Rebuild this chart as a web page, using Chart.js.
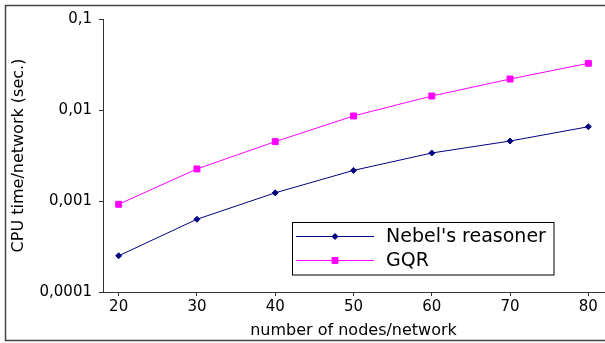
<!DOCTYPE html>
<html>
<head>
<meta charset="utf-8">
<script src="https://cdn.jsdelivr.net/npm/chart.js@4.4.1/dist/chart.umd.min.js"></script>
<style>
html,body{margin:0;padding:0;background:#fff;overflow:hidden;}
#wrap{width:605px;height:343px;position:relative;}
</style>
</head>
<body>
<div id="wrap"><canvas id="c" width="605" height="343"></canvas></div>
<script>
const nodes = [20, 30, 40, 50, 60, 70, 80];
const nebel = [0.00025, 0.00063, 0.00123, 0.00217, 0.00337, 0.00456, 0.00655];
const gqr = [0.00092, 0.00225, 0.00449, 0.0086, 0.01425, 0.0219, 0.0326];
const yTickValues = [0.0001, 0.001, 0.01, 0.1];
const yTickLabels = ['0,0001', '0,001', '0,01', '0,1'];
const xTickValues = [20, 30, 40, 50, 60, 70, 80];
const seriesNames = ["Nebel's reasoner", 'GQR'];

const FONT = 'DejaVu Sans';
const axisColor = '#333333';

const borderPlugin = {
  id: 'outerBorder',
  beforeDraw(chart) {
    const ctx = chart.ctx;
    ctx.save();
    ctx.strokeStyle = '#444444';
    ctx.lineWidth = 1.5;
    [[0, 5.5, 605, 5.5], [5.5, 5, 5.5, 341], [0, 340.5, 605, 340.5]].forEach(s => {
      ctx.beginPath();
      ctx.moveTo(Math.max(s[0], 5), s[1]);
      ctx.lineTo(s[2], s[3]);
      ctx.stroke();
    });
    ctx.restore();
  }
};

const legendPlugin = {
  id: 'insideLegend',
  afterDraw(chart) {
    const ctx = chart.ctx;
    const x0 = 292.5, y0 = 222.5, w = 261.5, h = 52.5;
    ctx.save();
    ctx.fillStyle = '#ffffff';
    ctx.fillRect(x0, y0, w, h);
    ctx.strokeStyle = '#000000';
    ctx.lineWidth = 1;
    ctx.strokeRect(x0, y0, w, h);
    const rows = [236.5, 260.5];
    chart.data.datasets.forEach((ds, i) => {
      const y = rows[i];
      ctx.strokeStyle = ds.borderColor;
      ctx.lineWidth = 1;
      ctx.beginPath();
      ctx.moveTo(296, y);
      ctx.lineTo(374, y);
      ctx.stroke();
      ctx.fillStyle = ds.backgroundColor;
      ctx.strokeStyle = ds.borderColor;
      Chart.helpers.drawPoint(ctx, {pointStyle: ds.pointStyle, radius: ds.pointRadius, borderWidth: 1}, 335, y);
      ctx.fillStyle = '#000000';
      ctx.font = '19px "' + FONT + '"';
      ctx.textBaseline = 'middle';
      ctx.textAlign = 'left';
      ctx.fillText(ds.label, 386, y + 1);
    });
    ctx.restore();
  }
};

new Chart(document.getElementById('c'), {
  type: 'line',
  data: {
    datasets: [
      {
        label: seriesNames[0],
        data: nodes.map((n, i) => ({x: n, y: nebel[i]})),
        borderColor: '#000080',
        backgroundColor: '#000080',
        borderWidth: 1,
        pointStyle: 'rectRot',
        pointRadius: 3,
        pointBorderWidth: 1,
        tension: 0
      },
      {
        label: seriesNames[1],
        data: nodes.map((n, i) => ({x: n, y: gqr[i]})),
        borderColor: '#ff00ff',
        backgroundColor: '#ff00ff',
        borderWidth: 1,
        pointStyle: 'rect',
        pointRadius: 4.2,
        pointBorderWidth: 1,
        tension: 0
      }
    ]
  },
  options: {
    responsive: false,
    animation: false,
    layout: {autoPadding: false, padding: {left: 0, right: 1, top: 19, bottom: 0}},
    plugins: {legend: {display: false}, tooltip: {enabled: false}},
    scales: {
      x: {
        type: 'linear',
        min: 18,
        max: 82,
        afterBuildTicks(s) { s.ticks = xTickValues.map(v => ({value: v})); },
        afterFit(s) { s.height = 51; s.paddingLeft = 0; s.paddingRight = 0; },
        border: {display: true, color: axisColor, width: 1},
        grid: {display: true, drawOnChartArea: false, drawTicks: true, tickLength: 4, color: axisColor},
        ticks: {color: '#000', font: {family: FONT, size: 15}, padding: 2, maxRotation: 0, autoSkip: false},
        title: {display: true, text: 'number of nodes/network', color: '#000', font: {family: FONT, size: 16}, padding: {top: 4, bottom: 3}}
      },
      y: {
        type: 'logarithmic',
        min: 0.0001,
        max: 0.1,
        afterBuildTicks(s) { s.ticks = yTickValues.map(v => ({value: v})); },
        afterFit(s) { s.width = 103; s.paddingTop = 0; s.paddingBottom = 0; },
        border: {display: true, color: axisColor, width: 1},
        grid: {display: true, drawOnChartArea: false, drawTicks: true, tickLength: 4, color: axisColor},
        ticks: {
          color: '#000', font: {family: FONT, size: 15}, padding: 7, autoSkip: false,
          callback(v) { const i = yTickValues.findIndex(t => Math.abs(t - v) / t < 1e-6); return i >= 0 ? yTickLabels[i] : ''; }
        },
        title: {display: true, text: 'CPU time/network (sec.)', color: '#000', font: {family: FONT, size: 16}, padding: {top: 9, bottom: 9}}
      }
    }
  },
  plugins: [borderPlugin, legendPlugin]
});
</script>
</body>
</html>
